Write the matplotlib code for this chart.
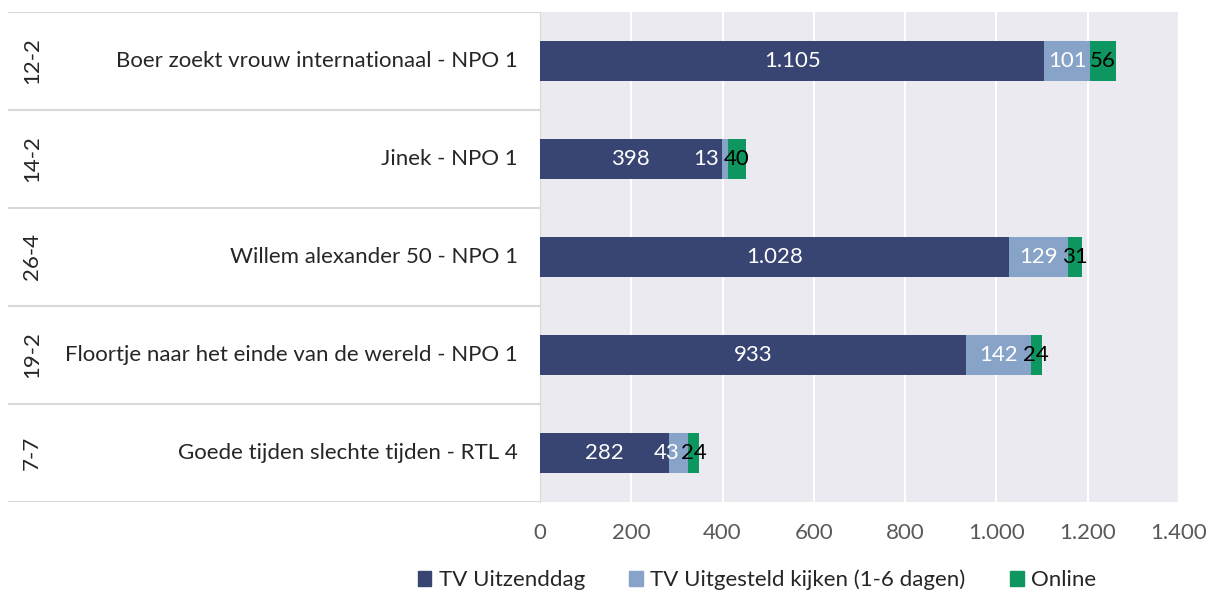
import matplotlib
matplotlib.use('Agg')
import matplotlib.pyplot as plt
from matplotlib.patches import Patch
from matplotlib.ticker import FuncFormatter

plt.rcParams['font.family'] = ['Lato', 'DejaVu Sans']

dates = ['12-2', '14-2', '26-4', '19-2', '7-7']
shows = ['Boer zoekt vrouw internationaal - NPO 1', 'Jinek - NPO 1',
         'Willem alexander 50 - NPO 1', 'Floortje naar het einde van de wereld - NPO 1',
         'Goede tijden slechte tijden - RTL 4']
tv_dag = [1105, 398, 1028, 933, 282]
tv_uitgesteld = [101, 13, 129, 142, 43]
online = [56, 40, 31, 24, 24]
series_names = ['TV Uitzenddag', 'TV Uitgesteld kijken (1-6 dagen)', 'Online']
colors = ['#384573', '#87a3c8', '#0e9660']
label_colors = ['white', 'white', 'black']

def fmt(v):
    return f'{int(v):,}'.replace(',', '.')

W, H = 1209, 592
fig = plt.figure(figsize=(W / 100, H / 100), dpi=100)
x0, x1, ytop, ybot = 540, 1179, 12, 502
ax = fig.add_axes([x0 / W, 1 - ybot / H, (x1 - x0) / W, (ybot - ytop) / H])
ax.set_facecolor('#ebeaf0')

ypos = list(range(len(shows)))
left = [0] * len(shows)
for k, (vals, c, lc) in enumerate(zip([tv_dag, tv_uitgesteld, online], colors, label_colors)):
    bars = ax.barh(ypos, vals, left=left, height=0.4, color=c, zorder=3)
    for b, v in zip(bars, vals):
        yc = b.get_y() + b.get_height() / 2
        if k == 1 and v < 60:
            # narrow segment: push the label left so it clears the green one
            ax.annotate(fmt(v), (b.get_x() + b.get_width(), yc), xytext=(-6, 0),
                        textcoords='offset points', ha='right', va='center',
                        color=lc, fontsize=16, zorder=4)
        else:
            ax.text(b.get_x() + b.get_width() / 2, yc, fmt(v), ha='center', va='center',
                    color=lc, fontsize=16, zorder=4)
    left = [l + v for l, v in zip(left, vals)]

ax.set_xlim(0, 1400)
ax.set_ylim(len(shows) - 0.5, -0.5)
ax.set_xticks(range(0, 1401, 200))
ax.xaxis.set_major_formatter(FuncFormatter(lambda v, p: fmt(v)))
ax.grid(axis='x', color='white', linewidth=1.5, zorder=0)
ax.set_yticks([])
ax.tick_params(axis='x', length=0, pad=15, labelsize=16, labelcolor='#595959')
for s in ['top', 'right', 'bottom']:
    ax.spines[s].set_visible(False)
ax.spines['left'].set_color('#d9d9d9')

# label area on the left
lab = fig.add_axes([8 / W, 1 - ybot / H, (x0 - 8) / W, (ybot - ytop) / H])
lab.set_xlim(0, x0 - 8)
lab.set_ylim(len(shows) - 0.5, -0.5)
lab.axis('off')
for i in range(len(shows) + 1):
    lab.axhline(i - 0.5, color='#d9d9d9', linewidth=1.5)
for i, (d, s) in enumerate(zip(dates, shows)):
    lab.text(24, i, d, rotation=90, ha='center', va='center', fontsize=16, color='#262626')
    lab.text(510, i, s, ha='right', va='center', fontsize=16, color='#262626')

handles = [Patch(color=c) for c in colors]
fig.legend(handles, series_names, loc='center', bbox_to_anchor=(757 / W, 1 - 580 / H),
           ncol=3, frameon=False, fontsize=16, handlelength=0.6, handleheight=0.6,
           handletextpad=0.35, columnspacing=2.0, labelcolor='#262626')

fig.savefig('out.png', dpi=100)
